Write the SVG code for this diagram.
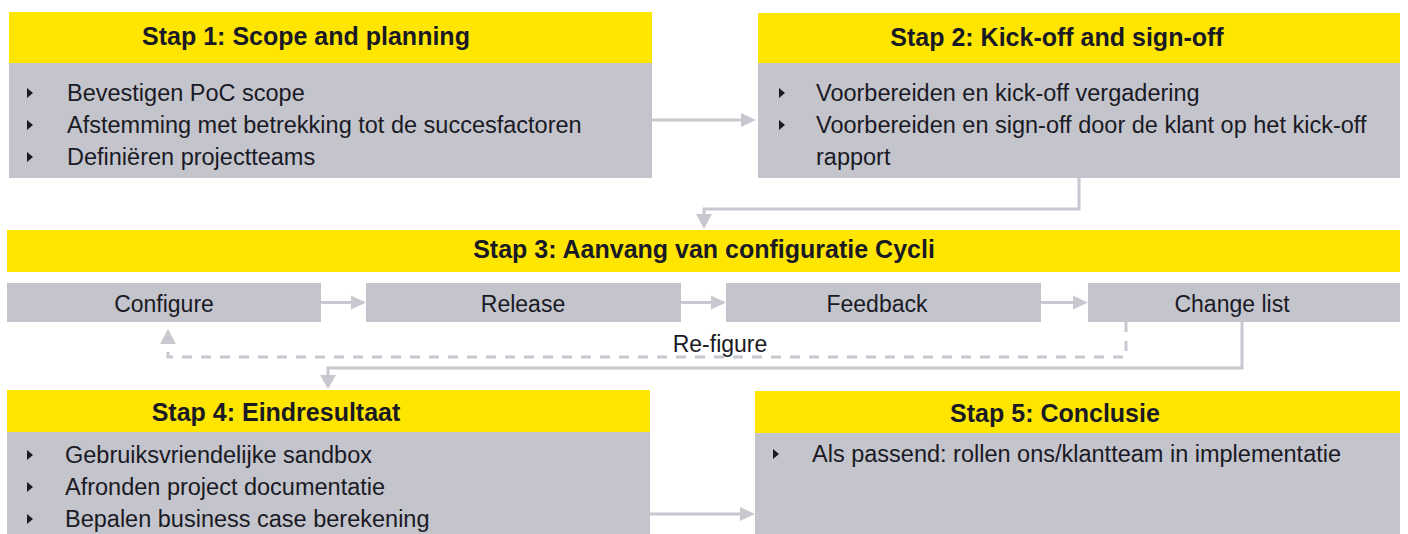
<svg xmlns="http://www.w3.org/2000/svg" width="1408" height="534" viewBox="0 0 1408 534">
<defs>
<style>
.hdr{fill:#FFE600}
.body{fill:#C4C4CD}
.title{font-family:"Liberation Sans",Arial,sans-serif;font-weight:bold;font-size:25px;fill:#1A1A24;text-anchor:middle}
.txt{font-family:"Liberation Sans",Arial,sans-serif;font-size:23.5px;fill:#1A1A24}
.lbl{font-family:"Liberation Sans",Arial,sans-serif;font-size:23px;fill:#1A1A24;text-anchor:middle}
.bul{fill:#1A1A24}
.con{fill:none;stroke:#C8C8D0;stroke-width:3}
.dash{fill:none;stroke:#C8C8D0;stroke-width:3;stroke-dasharray:10 9}
.head{fill:#C8C8D0}
</style>
</defs>
<rect width="1408" height="534" fill="#FFFFFF"/>

<g id="connectors">
<line class="con" x1="652" y1="120" x2="742" y2="120"/>
<polygon class="head" points="741,113 756,120 741,127"/>
<path class="con" d="M1079,178 V209 H704 V216"/>
<polygon class="head" points="696,214 712,214 704,229"/>
<line class="con" x1="321" y1="302.5" x2="352" y2="302.5"/>
<polygon class="head" points="351,295.5 366,302.5 351,309.5"/>
<line class="con" x1="681" y1="302.5" x2="712" y2="302.5"/>
<polygon class="head" points="711,295.5 726,302.5 711,309.5"/>
<line class="con" x1="1041" y1="302.5" x2="1074" y2="302.5"/>
<polygon class="head" points="1073,295.5 1088,302.5 1073,309.5"/>
<path class="dash" d="M1126,322 V357 H168 V344"/>
<polygon class="head" points="160,344 176,344 168,329"/>
<text class="lbl" x="720" y="352">Re-figure</text>
<path class="con" d="M1242,322 V368 H328 V376"/>
<polygon class="head" points="320,375 336,375 328,389"/>
<line class="con" x1="650" y1="514" x2="741" y2="514"/>
<polygon class="head" points="740,507 755,514 740,521"/>
</g>

<g id="stap1">
<rect class="hdr" x="9" y="12" width="643" height="51"/>
<rect class="body" x="9" y="63" width="643" height="115"/>
<text class="title" x="306" y="45">Stap 1: Scope and planning</text>
<polygon class="bul" points="27,88 33,93 27,98"/>
<text class="txt" x="67" y="101">Bevestigen PoC scope</text>
<polygon class="bul" points="27,120 33,125 27,130"/>
<text class="txt" x="67" y="133">Afstemming met betrekking tot de succesfactoren</text>
<polygon class="bul" points="27,152 33,157 27,162"/>
<text class="txt" x="67" y="165">Definiëren projectteams</text>
</g>

<g id="stap2">
<rect class="hdr" x="758" y="13" width="642" height="50"/>
<rect class="body" x="758" y="63" width="642" height="115"/>
<text class="title" x="1057" y="46">Stap 2: Kick-off and sign-off</text>
<polygon class="bul" points="779,88 785,93 779,98"/>
<text class="txt" x="816" y="101">Voorbereiden en kick-off vergadering</text>
<polygon class="bul" points="779,120 785,125 779,130"/>
<text class="txt" x="816" y="133">Voorbereiden en sign-off door de klant op het kick-off</text>
<text class="txt" x="816" y="165">rapport</text>
</g>

<g id="stap3">
<rect class="hdr" x="7" y="230" width="1393" height="42"/>
<text class="title" x="704" y="258">Stap 3: Aanvang van configuratie Cycli</text>
</g>

<g id="configure">
<rect class="body" x="7" y="283" width="314" height="39"/>
<text class="lbl" x="164" y="312">Configure</text>
</g>
<g id="release">
<rect class="body" x="366" y="283" width="315" height="39"/>
<text class="lbl" x="523" y="312">Release</text>
</g>
<g id="feedback">
<rect class="body" x="726" y="283" width="315" height="39"/>
<text class="lbl" x="877" y="312">Feedback</text>
</g>
<g id="changelist">
<rect class="body" x="1088" y="283" width="312" height="39"/>
<text class="lbl" x="1232" y="312">Change list</text>
</g>

<g id="stap4">
<rect class="hdr" x="7" y="390" width="643" height="42"/>
<rect class="body" x="7" y="432" width="643" height="102"/>
<text class="title" x="276" y="421">Stap 4: Eindresultaat</text>
<polygon class="bul" points="27,450 33,455 27,460"/>
<text class="txt" x="65" y="463">Gebruiksvriendelijke sandbox</text>
<polygon class="bul" points="27,482 33,487 27,492"/>
<text class="txt" x="65" y="495">Afronden project documentatie</text>
<polygon class="bul" points="27,514 33,519 27,524"/>
<text class="txt" x="65" y="527">Bepalen business case berekening</text>
</g>

<g id="stap5">
<rect class="hdr" x="755" y="391" width="645" height="42"/>
<rect class="body" x="755" y="433" width="645" height="101"/>
<text class="title" x="1055" y="422">Stap 5: Conclusie</text>
<polygon class="bul" points="773,449 779,454 773,459"/>
<text class="txt" x="812" y="462">Als passend: rollen ons/klantteam in implementatie</text>
</g>
</svg>
